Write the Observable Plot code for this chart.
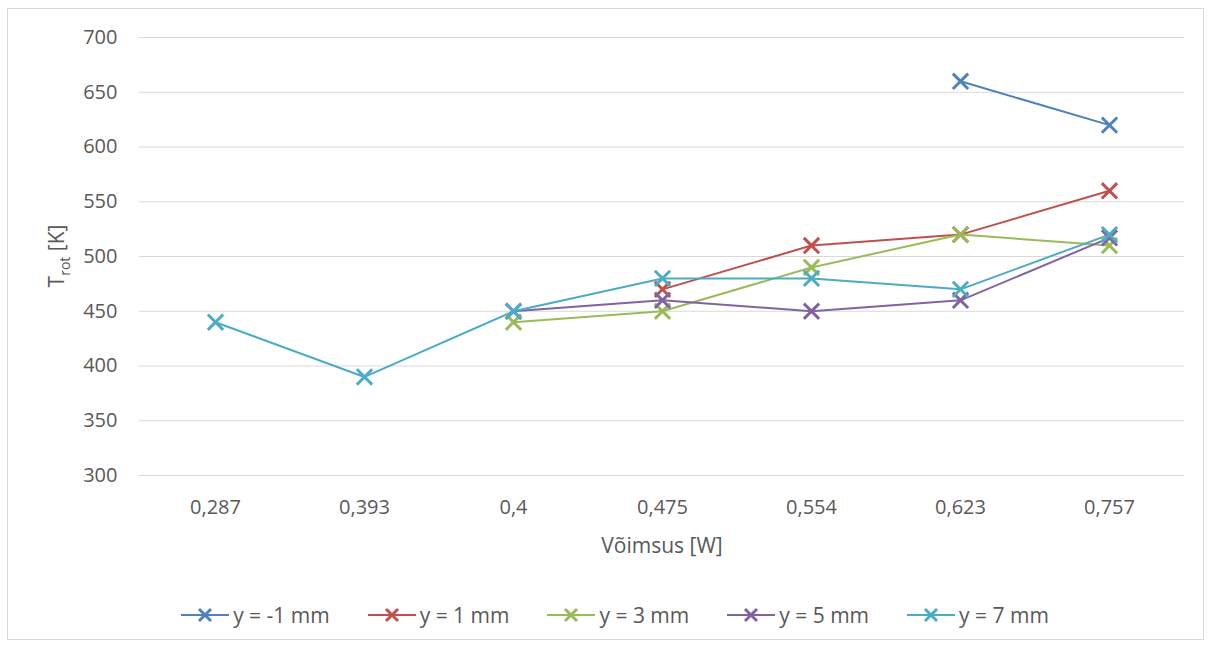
<!DOCTYPE html>
<html>
<head>
<meta charset="utf-8">
<script src="https://cdn.jsdelivr.net/npm/d3@7"></script>
<script src="https://cdn.jsdelivr.net/npm/@observablehq/plot@0.6"></script>
<style>
  body { margin: 0; background: #fff; font-family: "Open Sans", sans-serif; }
  #frame { position: absolute; left: 7px; top: 8px; width: 1197px; height: 632px; border: 1px solid #d9d9d9; box-sizing: border-box; }
  #chart { position: absolute; left: 0; top: 0; }
  #legend { position: absolute; left: 0; top: 601px; width: 1230px; display: flex; justify-content: center; gap: 38px; font-size: 21px; color: #595959; }
  .item { display: flex; align-items: center; gap: 4px; }
</style>
</head>
<body>
<div id="frame"></div>
<div id="chart"></div>
<div id="legend"></div>
<script>
const categories = ["0,287", "0,393", "0,4", "0,475", "0,554", "0,623", "0,757"];
const seriesNames = ["y = -1 mm", "y = 1 mm", "y = 3 mm", "y = 5 mm", "y = 7 mm"];
const colors = ["#4F81BD", "#C0504D", "#9BBB59", "#8064A2", "#4BACC6"];
const yTicks = [300, 350, 400, 450, 500, 550, 600, 650, 700];

const vMinus1 = [null, null, null, null, null, 660, 620];
const v1 = [null, null, null, 470, 510, 520, 560];
const v3 = [null, null, 440, 450, 490, 520, 510];
const v5 = [null, null, 450, 460, 450, 460, 517];
const v7 = [440, 390, 450, 480, 480, 470, 520];

const seriesValues = [vMinus1, v1, v3, v5, v7];
const data = [];
seriesNames.forEach((name, i) => {
  seriesValues[i].forEach((v, j) => {
    if (v != null) data.push({series: name, x: categories[j], y: v});
  });
});

const plot = Plot.plot({
  width: 1212,
  height: 565,
  marginTop: 37,
  marginBottom: 90,
  marginLeft: 139,
  marginRight: 28,
  style: { fontFamily: "Open Sans, sans-serif", fontSize: "20px", color: "#595959", background: "transparent" },
  x: { type: "point", domain: categories, padding: 0.5, label: null },
  y: { domain: [300, 700], ticks: yTicks, label: null },
  color: { domain: seriesNames, range: colors },
  marks: [
    Plot.gridY(yTicks, { stroke: "#d9d9d9", strokeOpacity: 1, strokeWidth: 1 }),
    Plot.axisY(yTicks, { tickSize: 0, tickPadding: 22, fontSize: 20, fill: "#595959", label: null }),
    Plot.axisX({ tickSize: 0, tickPadding: 24, fontSize: 20, fill: "#595959", label: null }),
    Plot.text(["Võimsus [W]"], { frameAnchor: "bottom", lineAnchor: "middle", dy: 71, fontSize: 21, fill: "#595959" }),
    Plot.line(data, { x: "x", y: "y", z: "series", stroke: "series", strokeWidth: 2 }),
    Plot.dot(data, { x: "x", y: "y", stroke: "series", symbol: "times", r: 7, strokeWidth: 3 })
  ]
});
document.getElementById("chart").appendChild(plot);

// Y axis title with subscript
const svg = d3.select(plot);
const t = svg.append("text")
  .attr("transform", "translate(64,256) rotate(-90)")
  .attr("text-anchor", "middle")
  .attr("fill", "#595959")
  .attr("font-size", 21)
  .attr("font-family", "Open Sans, sans-serif");
t.append("tspan").text("T");
t.append("tspan").attr("font-size", 14).attr("dy", 6).text("rot");
t.append("tspan").attr("dy", -6).text(" [K]");

// Legend
const legend = d3.select("#legend");
seriesNames.forEach((name, i) => {
  const item = legend.append("div").attr("class", "item");
  const s = item.append("svg").attr("width", 48).attr("height", 20);
  s.append("line").attr("x1", 0).attr("x2", 48).attr("y1", 10).attr("y2", 10).attr("stroke", colors[i]).attr("stroke-width", 2);
  s.append("path").attr("d", "M18,4L30,16M30,4L18,16").attr("stroke", colors[i]).attr("stroke-width", 3);
  item.append("span").text(name);
});
</script>
</body>
</html>
